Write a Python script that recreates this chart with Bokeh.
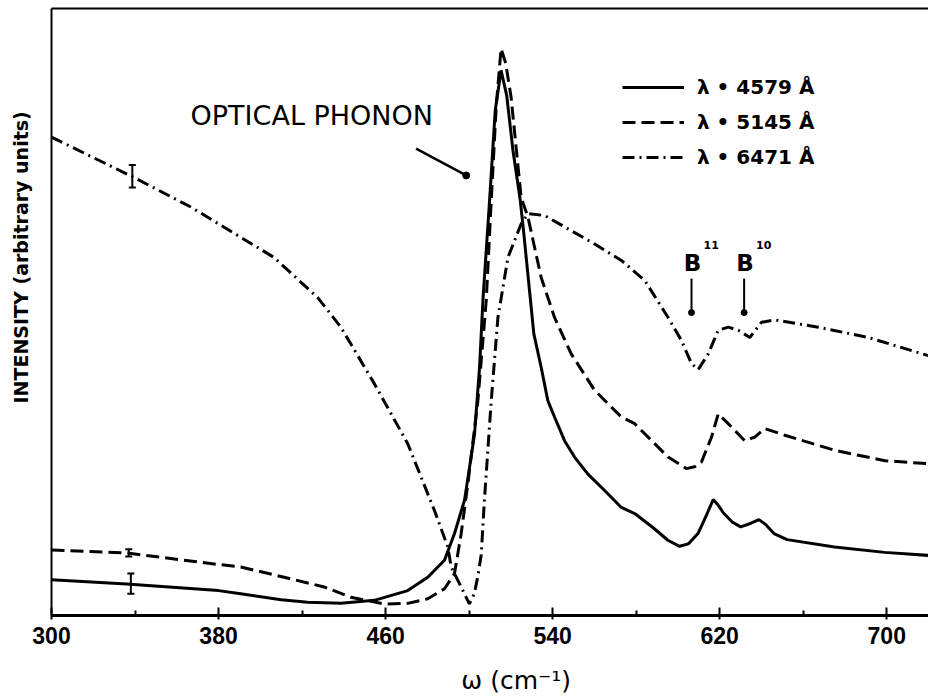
import numpy as np
from bokeh.plotting import figure
from bokeh.models import (FixedTicker, LinearAxis, Legend, LegendItem, Label,
                          Whisker, ColumnDataSource, Arrow, TeeHead)
from bokeh.embed import file_html
from bokeh.resources import INLINE

# Raman spectra, intensity in arbitrary units vs. wavenumber (cm^-1)
w_4579 = [300, 336, 380, 390.6, 410, 422.6, 438.6, 454.6, 470.6, 480.2, 488.2, 493,
          497.8, 500.2, 502.6, 505, 506.6, 509.8, 512.5, 515.3, 518, 521, 524.5,
          526.2, 527.8, 531, 534.5, 537.7, 540.9, 545.7, 550.5, 556.9, 564.9, 572.9,
          579.3, 588, 595.2, 600.8, 605, 609.6, 614, 616.9, 619, 622, 626, 630, 635,
          638.8, 642, 646, 652.3, 675, 699, 720]
i_4579 = [5.9, 5.2, 4.1, 3.6, 2.6, 2.2, 2.0, 2.5, 4.1, 6.3, 9.1, 13.5,
          19.0, 24.4, 29.9, 40.9, 51.9, 68.4, 83.2, 89.8, 85.7, 76.6, 68.4,
          62.9, 57.4, 46.4, 40.9, 35.4, 32.7, 28.8, 26.1, 23.3, 20.6, 17.8,
          16.8, 14.5, 12.4, 11.4, 11.8, 13.5, 16.8, 19.1, 18.3, 16.8, 15.4, 14.6, 15.2,
          15.8, 15.0, 13.5, 12.5, 11.3, 10.4, 9.9]

w_5145 = [300, 336, 380, 390.6, 411.4, 430.6, 443.4, 459.4, 470.6, 480.2, 488.2,
          493, 496.2, 499.4, 504.2, 508.2, 510.6, 513, 515.3, 517.5, 520.1, 524.9,
          528.2, 534.5, 540.9, 548.9, 560.1, 572.9, 579.3, 595.3, 604.1, 608, 611.3,
          616.1, 619.3, 624.1, 632, 636.8, 641.6, 651.2, 675.2, 699.2, 720]
i_5145 = [10.8, 10.3, 8.4, 8.0, 6.3, 4.7, 3.0, 1.9, 2.0, 2.75, 4.4,
          6.9, 13.5, 21.7, 35.4, 51.9, 68.4, 84.0, 93.4, 91.0, 85.4, 68.9,
          65.6, 55.7, 49.1, 43.1, 37.1, 32.7, 31.6, 26.1, 24.2, 24.5, 25.3,
          29.4, 33.2, 31.6, 28.8, 29.4, 30.8, 29.7, 27.2, 25.5, 25.0]

w_6471 = [300, 338.7, 366.7, 406.5, 427.4, 438.6, 454.6, 470.6, 483.4, 489.8, 491.4,
          496.2, 500.1, 502.5, 504.2, 505.8, 507.3, 510.6, 513.8, 518.6, 524.9, 528.2,
          536.1, 548.9, 560.1, 572.9, 584.1, 595.3, 601.7, 606.5, 609.7, 614.5, 619.3,
          624.1, 628.9, 634.4, 640, 646.4, 667.2, 691.2, 720]
i_6471 = [78.8, 72.3, 67.3, 59.0, 52.4, 47.5, 38.2, 28.3, 17.3, 11.3, 8.0,
          4.7, 1.9, 3.6, 6.5, 10.0, 18.9, 35.4, 49.1, 59.0, 64.5, 66.2,
          65.9, 63.4, 61.2, 58.5, 55.2, 49.1, 45.3, 41.5, 40.5, 43.1, 47.0,
          47.5, 47.0, 45.8, 48.3, 48.7, 47.5, 45.8, 42.8]

# representative error bars at ~338 cm^-1
err_w = [338, 337, 338.7]
err_lo = [3.6, 9.7, 70.5]
err_hi = [6.9, 10.9, 74.2]

X_MIN, X_MAX = 300, 720
Y_MIN, Y_MAX = 0, 100
x_ticks = [300, 380, 460, 540, 620, 700]
x_minor = [340, 420, 500, 580, 660]

legend_labels = ["λ • 4579 Å", "λ • 5145 Å", "λ • 6471 Å"]

LW = 3
FONT = "DejaVu Sans"

# The drawing area covers the whole canvas; the box of the graph sits inside it
# (51 px margin on the left, 8 px on top, 82 px below) so that the axis titles
# can be placed as ordinary labels.
W, H = 928, 697
ML, MT, MB = 51, 8, 82
sx = (W - ML) / (X_MAX - X_MIN)
sy = (H - MT - MB) / (Y_MAX - Y_MIN)
p = figure(width=W, height=H, output_backend="svg", toolbar_location=None,
           x_range=(X_MIN - ML / sx, X_MAX),
           y_range=(Y_MIN - MB / sy, Y_MAX + MT / sy),
           x_axis_location=None, y_axis_location=None, min_border=0)
p.grid.visible = False
p.outline_line_color = None
p.background_fill_color = "white"
p.border_fill_color = "white"

# bottom axis with ticks and labels
xa = LinearAxis(ticker=FixedTicker(ticks=x_ticks, minor_ticks=x_minor),
                fixed_location=Y_MIN, bounds=(X_MIN, X_MAX))
xa.axis_line_width = 3
xa.major_tick_line_width = 2
xa.minor_tick_line_width = 2
xa.major_tick_in = 8
xa.major_tick_out = 4
xa.minor_tick_in = 5
xa.minor_tick_out = 0
xa.major_label_text_font = "Liberation Sans"
xa.major_label_text_font_style = "bold"
xa.major_label_text_font_size = "23px"
xa.major_label_text_color = "black"
xa.major_label_standoff = 7
p.add_layout(xa, "below")

# left and top lines of the box, no ticks
ya = LinearAxis(ticker=FixedTicker(ticks=[]), fixed_location=X_MIN,
                bounds=(Y_MIN, Y_MAX), axis_line_width=2)
p.add_layout(ya, "left")
ta = LinearAxis(ticker=FixedTicker(ticks=[]), fixed_location=Y_MAX,
                bounds=(X_MIN, X_MAX), axis_line_width=2)
p.add_layout(ta, "above")

# axis titles
p.add_layout(Label(x=522.5, y=-10.7, text="ω (cm⁻¹)", text_font=FONT,
                   text_font_size="25px", text_align="center",
                   text_baseline="middle", text_color="black"))
p.add_layout(Label(x=285.6, y=59.0, text="INTENSITY (arbitrary units)",
                   text_font=FONT, text_font_style="bold", text_font_size="19px",
                   text_align="center", text_baseline="middle", angle=np.pi / 2,
                   text_color="black"))

r1 = p.line(w_4579, i_4579, line_color="black", line_width=LW)
r2 = p.line(w_5145, i_5145, line_color="black", line_width=LW, line_dash="13 6")
r3 = p.line(w_6471, i_6471, line_color="black", line_width=LW, line_dash="12 5 2 5")

src = ColumnDataSource(dict(w=err_w, lo=err_lo, hi=err_hi))
wh = Whisker(base="w", lower="lo", upper="hi", source=src, line_width=2,
             upper_head=TeeHead(size=7, line_width=2),
             lower_head=TeeHead(size=7, line_width=2))
p.add_layout(wh)

legend = Legend(items=[LegendItem(label=legend_labels[0], renderers=[r1]),
                       LegendItem(label=legend_labels[1], renderers=[r2]),
                       LegendItem(label=legend_labels[2], renderers=[r3])],
                location=(571 + ML, 446 + MB), glyph_width=62, glyph_height=20,
                label_height=20, spacing=11, label_standoff=13, padding=0,
                margin=0, border_line_color=None, background_fill_alpha=0,
                label_text_font=FONT, label_text_font_style="bold",
                label_text_font_size="20px", label_text_color="black")
p.add_layout(legend)

# annotations
p.add_layout(Label(x=482.7, y=79.9, text="OPTICAL PHONON", text_font=FONT,
                   text_font_size="27px", text_align="right",
                   text_baseline="bottom", text_color="black"))
ptr_x = [474.6, 498.6]
ptr_y = [76.9, 72.5]
p.add_layout(Arrow(x_start=ptr_x[0], y_start=ptr_y[0], x_end=ptr_x[1], y_end=ptr_y[1],
                   end=None, line_width=2.5))
p.scatter([ptr_x[1]], [ptr_y[1]], size=7, color="black")

iso_w = [606.5, 631.7]
iso_sup = ["11", "10"]
for w, s in zip(iso_w, iso_sup):
    p.add_layout(Arrow(x_start=w, y_start=55.5, x_end=w, y_end=49.9, end=None,
                       line_width=2))
    p.add_layout(Label(x=w, y=58.0, text="B", text_font=FONT, text_font_style="bold",
                       text_font_size="23px", text_align="center",
                       text_baseline="alphabetic", text_color="black", x_offset=1))
    p.add_layout(Label(x=w, y=61.0, text=s, text_font=FONT, text_font_style="bold",
                       text_font_size="11px", text_align="left",
                       text_baseline="alphabetic", text_color="black", x_offset=12))
p.scatter(iso_w, [49.9, 49.9], size=6, color="black")

open("out.html", "w").write(file_html(p, INLINE))
